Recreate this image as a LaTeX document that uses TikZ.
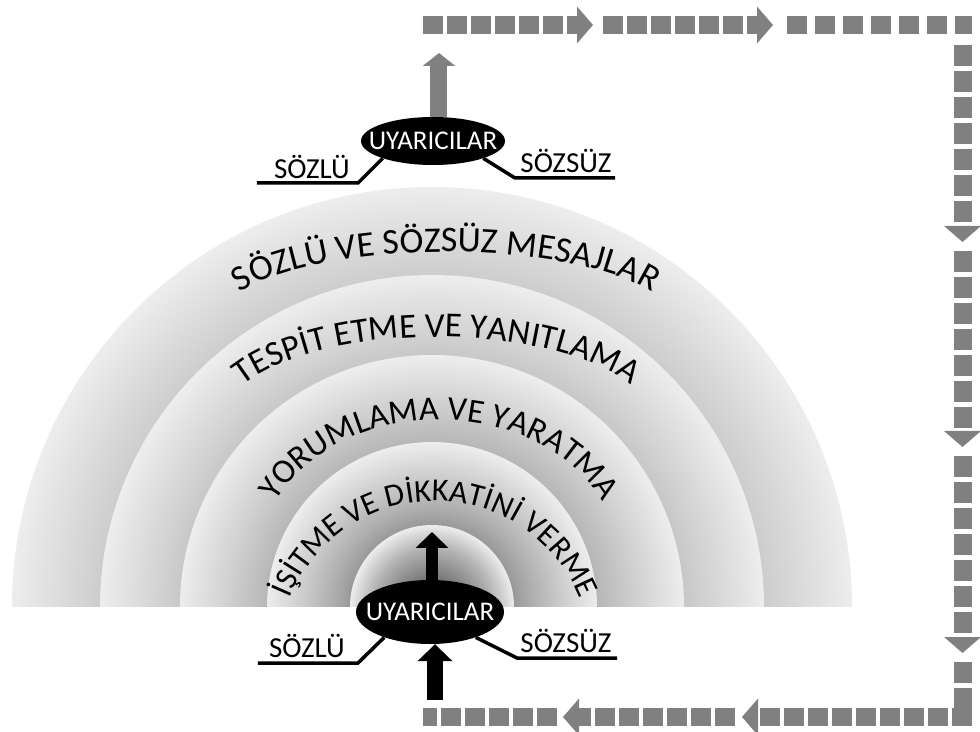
\documentclass[tikz,border=0pt]{standalone}
\usepackage{fontspec}
\setmainfont{Carlito}
\usetikzlibrary{shapes.geometric,decorations.text,arrows.meta}

\definecolor{dashgray}{HTML}{808080}
\pgfdeclareradialshading{ringshade}{\pgfpoint{0bp}{0bp}}{color(0bp)=(black!75); color(12.5bp)=(black!40); color(15bp)=(black!32); color(20bp)=(black!19); color(25bp)=(black!7); color(50bp)=(black!7)}
\pgfdeclareradialshading{coreshade}{\pgfpoint{0bp}{0bp}}{color(0bp)=(black!80); color(10bp)=(black!50); color(18bp)=(black!30); color(23bp)=(black!14); color(25bp)=(black!7); color(50bp)=(black!7)}

\tikzset{
  flow/.style={draw=dashgray, line width=18pt, dash pattern=on 20pt off 4pt},
  flowhead/.style={-{Triangle[width=36pt,length=16pt]}},
  stim/.style={ellipse, fill=black, text=white, inner sep=0pt, font=\fontsize{27}{30}\selectfont},
  tag/.style={inner sep=0pt, font=\fontsize{29}{32}\selectfont},
  tagline/.style={line width=3.5pt},
  arctext/.style 2 args={decorate, decoration={text along path, text align=center,
    text={|\fontsize{#1}{40}\selectfont|#2}}}
}

\begin{document}
\begin{tikzpicture}[x=1pt,y=1pt]
  \fill[white] (-432,-124) rectangle (548,607);
  \useasboundingbox (-432,-124) rectangle (548,607);

  \begin{scope}
    \clip (-420,0) rectangle (420,420);
    \foreach \r in {420,332,252,165}
      \shade[shading=ringshade] (0,0) circle[radius=\r pt];
    \shade[shading=coreshade] (0,0) circle[radius=82pt];
  \end{scope}

  \path[arctext={36}{SÖZLÜ VE SÖZSÜZ MESAJLAR}]
    (14,287) ++(180:225pt and 68pt) arc[start angle=180, end angle=0, x radius=225pt, y radius=68pt];
  \path[arctext={35}{TESPİT ETME VE YANITLAMA}]
    (5,185) ++(180:215pt and 85pt) arc[start angle=180, end angle=0, x radius=215pt, y radius=85pt];
  \path[arctext={34}{YORUMLAMA VE YARATMA}]
    (7,47) ++(180:180pt and 140pt) arc[start angle=180, end angle=0, x radius=180pt, y radius=140pt];
  \path[arctext={32}{İŞİTME VE DİKKATİNİ VERME}]
    (3,-51) ++(178:157pt) arc[start angle=178, end angle=2, radius=157pt];

  \node[stim, minimum width=144pt, minimum height=48pt] (uTop) at (1,466) {\makebox[0pt]{UYARICILAR}};
  \node[stim, minimum width=148pt, minimum height=64pt] (uBot) at (-2,-5) {\makebox[0pt]{UYARICILAR}};

  \coordinate (topTip) at (7,554);
  \coordinate (coreTip) at (0,75);
  \coordinate (inTail) at (3,-93);
  \draw[dashgray, line width=17pt, -{Triangle[width=32pt,length=13pt]}] (uTop.north -| topTip) -- (topTip);
  \draw[line width=12pt, -{Triangle[width=32pt,length=16pt]}] (uBot.north -| coreTip) -- (coreTip);
  \draw[line width=16pt, -{Triangle[width=34pt,length=17pt]}] (inTail) -- (inTail |- uBot.south);

  \coordinate (tlEnd) at (-175,424);
  \coordinate (tlKnee) at (-74,424);
  \coordinate (trEnd) at (183,429);
  \coordinate (trKnee) at (83,429);
  \coordinate (blEnd) at (-174,-56);
  \coordinate (blKnee) at (-74,-56);
  \coordinate (brEnd) at (185,-51);
  \coordinate (brKnee) at (85,-51);
  \draw[tagline] (tlEnd) -- (tlKnee) -- (uTop.199);
  \draw[tagline] (trEnd) -- (trKnee) -- (uTop.341);
  \draw[tagline] (blEnd) -- (blKnee) -- (uBot.209);
  \draw[tagline] (brEnd) -- (brKnee) -- (uBot.331);
  \node[tag] (sozluTop) at (-120,440) {SÖZLÜ};
  \node[tag] (sozsuzTop) at (134,446) {SÖZSÜZ};
  \node[tag] (sozluBot) at (-125,-39) {SÖZLÜ};
  \node[tag] (sozsuzBot) at (134,-34) {SÖZSÜZ};

  \coordinate (f0) at (-9,582);
  \coordinate (f1) at (161,582);
  \coordinate (f2) at (171,582);
  \coordinate (f3) at (341,582);
  \coordinate (f4) at (355,582);
  \coordinate (f5) at (540,582);
  \coordinate (f6) at (530.5,562);
  \coordinate (f7) at (530.5,365);
  \coordinate (f8) at (530.5,356);
  \coordinate (f9) at (530.5,160);
  \coordinate (f10) at (530.5,151);
  \coordinate (f11) at (530.5,-46);
  \coordinate (f12) at (530.5,-55);
  \coordinate (f13) at (530.5,-101);
  \coordinate (g0) at (540,-110);
  \coordinate (g1) at (310,-110);
  \coordinate (g2) at (303,-110);
  \coordinate (g3) at (131,-110);
  \coordinate (g4) at (125,-110);
  \coordinate (g5) at (-9,-110);
  \draw[flow, flowhead] (f0) -- (f1);
  \draw[flow, flowhead] (f2) -- (f3);
  \draw[flow, dash pattern=on 20pt off 8pt] (f4) -- (f5);
  \draw[flow, flowhead, dash pattern=on 21pt off 5pt] (f6) -- (f7);
  \draw[flow, flowhead, dash pattern=on 21pt off 5pt] (f8) -- (f9);
  \draw[flow, flowhead, dash pattern=on 21pt off 5pt] (f10) -- (f11);
  \draw[flow, dash pattern=on 21pt off 5pt] (f12) -- (f13);
  \draw[flow, flowhead] (g0) -- (g1);
  \draw[flow, flowhead] (g2) -- (g3);
  \draw[flow] (g4) -- (g5);
\end{tikzpicture}
\end{document}
